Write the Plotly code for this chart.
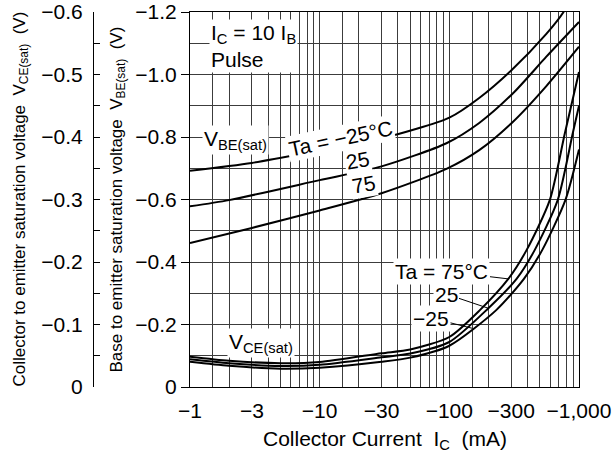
import math
import plotly.graph_objects as go

# ---------------- data ----------------
# Collector current magnitude (mA) -- plotted on a log axis, labelled negative
ic_vbe_m25 = [1, 3, 10, 30, 100, 170, 300, 560, 760, 900]
vbe_m25 = [-0.692, -0.717, -0.757, -0.795, -0.862, -0.925, -1.013, -1.13, -1.2, -1.26]

ic_vbe_25 = [1, 2, 10, 30, 95, 170, 310, 560, 1000]
vbe_25 = [-0.578, -0.598, -0.662, -0.706, -0.78, -0.845, -0.94, -1.057, -1.168]

ic_vbe_75 = [1, 3, 10, 30, 95, 170, 310, 560, 1000]
vbe_75 = [-0.461, -0.509, -0.565, -0.62, -0.698, -0.758, -0.849, -0.963, -1.089]

ic_vce_75 = [1, 2, 5, 10, 30, 50, 100, 172, 285, 394, 595, 778, 1000]
vce_75 = [-0.0485, -0.042, -0.038, -0.040, -0.054, -0.060, -0.080, -0.123, -0.173, -0.219, -0.299, -0.406, -0.504]

ic_vce_25 = [1, 2, 5, 10, 30, 50, 100, 200, 330, 455, 685, 895, 1000]
vce_25 = [-0.0443, -0.038, -0.0336, -0.0355, -0.0475, -0.0535, -0.072, -0.126, -0.173, -0.219, -0.299, -0.406, -0.45]

ic_vce_m25 = [1, 2, 5, 10, 30, 50, 100, 230, 376, 520, 785, 1000]
vce_m25 = [-0.0405, -0.034, -0.0293, -0.031, -0.0405, -0.047, -0.066, -0.123, -0.173, -0.219, -0.299, -0.38]

x_tickvals = [1, 3, 10, 30, 100, 300, 1000]
x_ticktext = ["\u22121", "\u22123", "\u221210", "\u221230", "\u2212100", "\u2212300", "\u22121,000"]

vbe_tickvals = [0, -0.2, -0.4, -0.6, -0.8, -1.0, -1.2]
vbe_ticktext = ["0", "\u22120.2", "\u22120.4", "\u22120.6", "\u22120.8", "\u22121.0", "\u22121.2"]

vce_tickvals = [0, -0.05, -0.1, -0.15, -0.2, -0.25, -0.3, -0.35, -0.4, -0.45, -0.5, -0.55, -0.6]
vce_ticktext = ["0", "", "\u22120.1", "", "\u22120.2", "", "\u22120.3", "", "\u22120.4", "", "\u22120.5", "", "\u22120.6"]

# label anchor points on the VCE curves (current mA, voltage V)
lead_75 = (285, -0.173)
lead_25 = (200, -0.126)
lead_m25 = (150, -0.094)

# ---------------- geometry helpers ----------------
# page body margin is removed by post_script, so page px == figure px
OFF = 0
W, H = 613, 459
XL, XR, YT, YB = 190, 579, 12, 387        # plot area, page px
ML = 0
MR = W - (XR - OFF)
MT = YT - OFF
MB = H - (YB - OFF)
PW = W - ML - MR
PH = H - MT - MB


def px(x):
    return (x - OFF - ML) / PW


def py(y):
    return (YB - y) / PH


def xpix(i):
    return XL + (XR - XL) * math.log10(i) / 3


def y2pix(v):
    return YB + v * PH / 0.6


FONT = "Liberation Sans, Arial, Helvetica, sans-serif"
FS = 21
TS = 17
GRID = "#3c3c3c"

grid_x = []
for dec in (1, 10, 100):
    for m in (1, 1.5, 2, 3, 4, 5, 6, 7, 8, 9):
        grid_x.append(m * dec)
grid_x.append(1000)

fig = go.Figure()

line = dict(color="black", width=2, shape="spline", smoothing=0.7)
for xs, ys in ((ic_vbe_m25, vbe_m25), (ic_vbe_25, vbe_25), (ic_vbe_75, vbe_75)):
    fig.add_trace(go.Scatter(x=xs, y=ys, mode="lines", line=line, yaxis="y", xaxis="x",
                             showlegend=False, hoverinfo="skip"))
for xs, ys in ((ic_vce_75, vce_75), (ic_vce_25, vce_25), (ic_vce_m25, vce_m25)):
    fig.add_trace(go.Scatter(x=xs, y=ys, mode="lines", line=line, yaxis="y2", xaxis="x",
                             showlegend=False, hoverinfo="skip"))

ann = []


def label(text, x, y, angle=0, **kw):
    d = dict(text=text, x=px(x), y=py(y), xref="paper", yref="paper", showarrow=False,
             textangle=angle, font=dict(family=FONT, size=FS, color="black"),
             bgcolor="white", borderpad=1, xanchor="center", yanchor="middle")
    d.update(kw)
    ann.append(d)


def leader(text, tx, ty, pt):
    cx, cy = xpix(pt[0]), y2pix(pt[1])
    ann.append(dict(text=text, x=math.log10(pt[0]), y=pt[1], xref="x", yref="y2", showarrow=True,
                    arrowhead=0, arrowwidth=1, arrowcolor="black", ax=tx - cx, ay=ty - cy,
                    standoff=0, font=dict(family=FONT, size=FS, color="black"),
                    bgcolor="white", borderpad=1))


label("I<sub>C</sub> = 10 I<sub>B</sub><br>Pulse", 209, 19, xanchor="left", yanchor="top", align="left")
label("V<sub>BE(sat)</sub>", 235, 140)
label("Ta = \u221225\u00b0C", 340, 138, angle=-12)
label("25", 357, 160, angle=-10)
label("75", 363, 184, angle=-10)
label("V<sub>CE(sat)</sub>", 261, 343)
leader("Ta = 75\u00b0C", 442, 271, lead_75)
leader("25", 446, 294, lead_25)
leader("\u221225", 431, 318, lead_m25)

# axis titles
ann.append(dict(text="Collector to emitter saturation voltage  V<sub>CE(sat)</sub>  (V)",
                x=px(20), y=py(199.5), xref="paper", yref="paper", showarrow=False, textangle=-90,
                font=dict(family=FONT, size=TS, color="black"), xanchor="center", yanchor="middle"))
ann.append(dict(text="Base to emitter saturation voltage  V<sub>BE(sat)</sub>  (V)",
                x=px(117), y=py(199.5), xref="paper", yref="paper", showarrow=False, textangle=-90,
                font=dict(family=FONT, size=TS, color="black"), xanchor="center", yanchor="middle"))
ann.append(dict(text="Collector Current  I<sub>C</sub>  (mA)",
                x=px(385), y=py(440), xref="paper", yref="paper", showarrow=False,
                font=dict(family=FONT, size=FS, color="black"), xanchor="center", yanchor="middle"))

fig.update_layout(
    width=W, height=H,
    margin=dict(l=ML, r=MR, t=MT, b=MB, pad=0, autoexpand=False),
    paper_bgcolor="white", plot_bgcolor="white",
    font=dict(family=FONT, size=FS, color="black"),
    showlegend=False,
    hovermode=False,
    annotations=ann,
    xaxis=dict(type="log", domain=[px(XL), 1], range=[0, 3], automargin=False,
               tickmode="array", tickvals=x_tickvals, ticktext=x_ticktext,
               ticks="", ticklabelstandoff=5, ticklabeloverflow="allow",
               showgrid=True, gridcolor=GRID, gridwidth=1,
               minor=dict(tickvals=grid_x, showgrid=True, gridcolor=GRID, gridwidth=1, ticks=""),
               showline=True, mirror=True, linecolor="black", linewidth=1, zeroline=False,
               tickfont=dict(family=FONT, size=FS, color="black")),
    yaxis=dict(range=[0, -1.2], automargin=False, tickmode="array", tickvals=vbe_tickvals,
               ticktext=vbe_ticktext, ticklabeloverflow="allow",
               ticks="outside", ticklen=8, tickcolor="black", tickwidth=1,
               showgrid=True, gridcolor=GRID, gridwidth=1,
               minor=dict(dtick=0.1, tick0=0, showgrid=True, gridcolor=GRID, gridwidth=1, ticks=""),
               showline=True, mirror=True, linecolor="black", linewidth=1, zeroline=False,
               tickfont=dict(family=FONT, size=FS, color="black")),
    yaxis2=dict(range=[0, -0.6], automargin=False, overlaying="y", anchor="free", position=px(93),
                side="left", ticklabeloverflow="allow",
                tickmode="array", tickvals=vce_tickvals, ticktext=vce_ticktext,
                ticks="inside", ticklen=6, tickcolor="black", tickwidth=1, ticklabelstandoff=6,
                showgrid=False, showline=True, linecolor="black", linewidth=1, zeroline=False,
                tickfont=dict(family=FONT, size=FS, color="black")),
)

fig.write_html("out.html", config={"displayModeBar": False, "staticPlot": True},
               post_script="document.body.style.margin='0';")
